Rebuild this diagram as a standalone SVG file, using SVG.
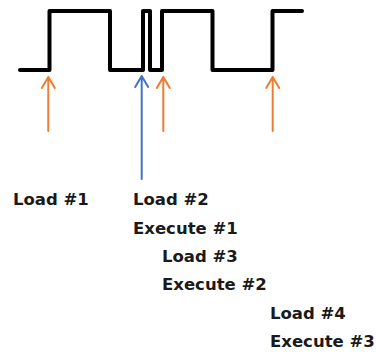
<svg xmlns="http://www.w3.org/2000/svg" width="376" height="352" viewBox="0 0 376 352">
<style>
.wave{fill:none;stroke:#000;stroke-width:4;stroke-linejoin:round;stroke-linecap:round}
.arr{fill:none;stroke-width:2;stroke-linecap:round;stroke-linejoin:round}
.or{stroke:#ED7D31}
.bl{stroke:#4472C4}
text{font-family:"DejaVu Sans",sans-serif;font-weight:bold;font-size:16.5px;fill:#1a1a1a}
</style>
<rect width="376" height="352" fill="#fff"/>
<g id="waveform">
<path class="wave" d="M20,70 H49.5 V11 H110 V70 H143 V11 H150 V70 H162 V11 H212.5 V70 H272.5 V11 H302"/>
</g>
<g id="connectors">
<path class="arr or" d="M48.3,131 V77 M41.8,88 L48.3,77 L54.8,88"/>
<path class="arr bl" d="M141.7,179 V76 M135.2,87 L141.7,76 L148.2,87"/>
<path class="arr or" d="M163.3,131 V77 M156.8,88 L163.3,77 L169.8,88"/>
<path class="arr or" d="M272.7,131 V77 M266.2,88 L272.7,77 L279.2,88"/>
</g>
<g id="labels">
<text x="13" y="205">Load #1</text>
<text x="133" y="205">Load #2</text>
<text x="133" y="233.5">Execute #1</text>
<text x="162" y="262">Load #3</text>
<text x="162" y="290">Execute #2</text>
<text x="270" y="318.5">Load #4</text>
<text x="270" y="346.5">Execute #3</text>
</g>
</svg>
